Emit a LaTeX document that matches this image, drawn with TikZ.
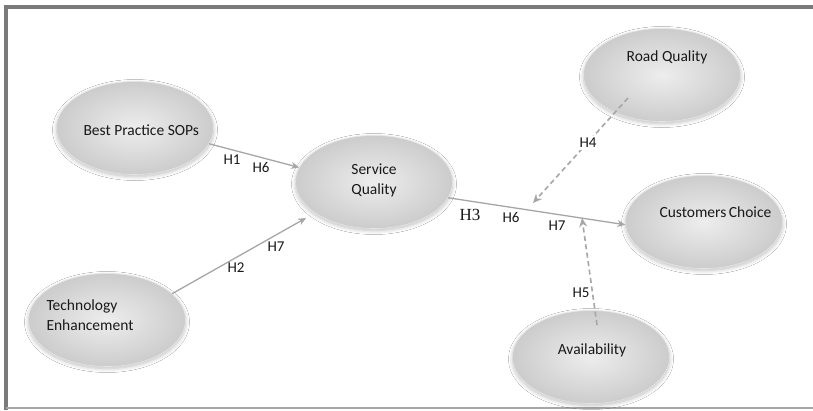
\documentclass[tikz,border=0pt]{standalone}
\usepackage{fontspec}
\setmainfont{Carlito}
\newfontfamily\timesf{Liberation Serif}
\usetikzlibrary{arrows.meta,shadows.blur,shapes.geometric}
\definecolor{framegray}{HTML}{7A7A7A}
\definecolor{arrgray}{HTML}{A6A6A6}
\tikzset{
  bubble/.style={ellipse, minimum width=157pt, minimum height=93pt, inner sep=0pt,
    shading=radial, inner color=gray!14, outer color=gray!40,
    draw=gray!20, line width=0.6pt,
    blur shadow={shadow xshift=0pt, shadow yshift=-2pt, shadow blur radius=4pt, shadow blur steps=8, shadow opacity=25}},
  lbl/.style={font=\fontsize{15.5}{20}\selectfont, text=black!90, align=left},
  hlab/.style={font=\fontsize{15}{16}\selectfont, text=black!90, inner sep=1pt},
  solidarr/.style={draw=arrgray, line width=1.3pt, -{Stealth[length=8pt,width=7pt]}},
  dasharr/.style={draw=arrgray, line width=1.6pt, dash pattern=on 5pt off 3.5pt, -{Stealth[length=9pt,width=8pt]}}
}
\begin{document}
\begin{tikzpicture}[x=1pt,y=-1pt]
\useasboundingbox (0,0) rectangle (813,410);
\fill[white] (0,0) rectangle (813,410);
% frame
\draw[framegray, line width=4pt] (5.5,410) -- (5.5,7) -- (813,7);
\draw[gray!70, line width=1.2pt] (5.5,408) -- (813,408);

% ellipses
\node[bubble] (bp) at (135,128) {};
\node[bubble] (sq) at (374,182) {};
\node[bubble] (te) at (107,320) {};
\node[bubble] (rq) at (662,75) {};
\node[bubble] (cc) at (704,222) {};
\node[bubble] (av) at (591,357) {};

% texts
\node[lbl, anchor=west] (tbp) at (80,130) {Best Practice SOPs};
\node[lbl, align=center] (tsq) at (374,180) {Service\\Quality};
\node[lbl, anchor=west] (tte) at (43,315) {Technology\\Enhancement};
\node[lbl] (trq) at (667,57) {Road Quality};
\node[lbl, anchor=west] (tcc) at (656,212) {Customers\,Choice};
\node[lbl] (tav) at (592,350) {Availability};

% connectors
\draw[solidarr] (bp.-12) -- (sq.169);
\draw[solidarr] (te.22) -- ([shift={(-68,36)}]sq.center);
\draw[solidarr] (sq.-12) -- (cc.182);
\coordinate (h4s) at ([shift={(-34,23)}]rq.center);
\coordinate (h4e) at (533,203);
\draw[dasharr] (h4s) -- (h4e);
\coordinate (h5s) at ([shift={(6,-32)}]av.center);
\coordinate (h5e) at (582,218);
\draw[dasharr] (h5s) -- (h5e);

% hypothesis labels
\node[hlab] (l1) at (232,160) {H1};
\node[hlab] (l2) at (261,167) {H6};
\node[hlab] (l3) at (236,268) {H2};
\node[hlab] (l4) at (276,247) {H7};
\node[hlab, font=\timesf\fontsize{17}{18}\selectfont] (l5) at (470,215) {H3};
\node[hlab] (l6) at (511,217) {H6};
\node[hlab] (l7) at (557,226) {H7};
\node[hlab, fill=white, inner sep=2pt] (l8) at (588,143) {H4};
\node[hlab] (l9) at (581,293) {H5};
\end{tikzpicture}
\end{document}
